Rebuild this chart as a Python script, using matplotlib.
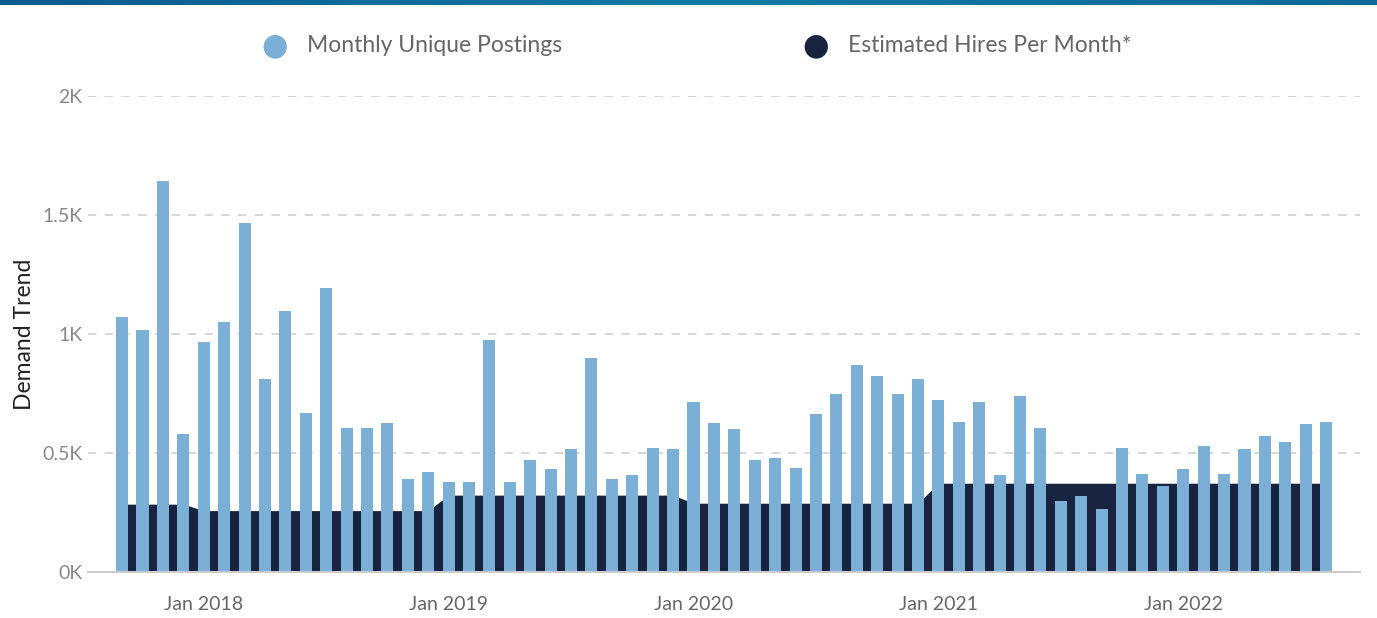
import matplotlib.pyplot as plt
import numpy as np
import pandas as pd

months = pd.date_range("2017-09-01", periods=60, freq="MS")
postings = [1070, 1017, 1644, 580, 966, 1050, 1465, 812, 1097, 670, 1193, 606,
            606, 625, 392, 419, 379, 379, 975, 379, 471, 431, 517, 898,
            392, 406, 522, 515, 716, 625, 600, 471, 477, 438, 665, 748,
            871, 825, 748, 812, 723, 632, 716, 406, 741, 606, 297, 321,
            265, 521, 412, 360, 431, 528, 412, 515, 573, 548, 623, 630]
hires = [285] * 4 + [258] * 12 + [323] * 12 + [289] * 12 + [373] * 20
yticks = [0, 500, 1000, 1500, 2000]
ytick_labels = ["0K", "0.5K", "1K", "1.5K", "2K"]

plt.rcParams['font.family'] = ['Lato', 'DejaVu Sans']
light = "#7bafd6"
navy = "#17233f"

fig = plt.figure(figsize=(13.77, 6.18), dpi=100)

# gradient strip on top
top = fig.add_axes([0, 1 - 5 / 618, 1, 5 / 618])
top.imshow(np.linspace(0, 1, 256).reshape(1, -1), aspect="auto",
           cmap=plt.matplotlib.colors.LinearSegmentedColormap.from_list("g", ["#0b5a8c", "#137ba3", "#0b6a96"]))
top.axis("off")

ax = fig.add_axes([88 / 1377, 1 - 572 / 618, (1360 - 88) / 1377, (572 - 96) / 618])
x = np.arange(len(months))
ax.fill_between(x, hires, color=navy, zorder=1, linewidth=0)
ax.bar(x, postings, width=0.59, color=light, zorder=2, linewidth=0)

ax.set_xlim(-1.67, 60.66)
ax.set_ylim(0, 2000)
ax.set_yticks(yticks)
ax.set_yticklabels(ytick_labels)
jan = [i for i, m in enumerate(months) if m.month == 1]
ax.set_xticks(jan)
ax.set_xticklabels([months[i].strftime("Jan %Y") for i in jan])
ax.tick_params(axis="x", length=0, labelsize=14, labelcolor="#666666", pad=17)
ax.tick_params(axis="y", length=0, labelsize=14, labelcolor="#888888", pad=4)
ax.grid(axis="y", color="#d0d0d0", linestyle=(0, (5, 5)), linewidth=1.2, zorder=0)
for s in ["top", "right", "left"]:
    ax.spines[s].set_visible(False)
ax.spines["bottom"].set_color("#cccccc")
ax.spines["bottom"].set_linewidth(1.5)
ax.set_axisbelow(True)
ax.set_ylabel("Demand Trend", fontsize=16.5, color="#222222", labelpad=5)

# legend
fig.text(275 / 1377, 1 - 46 / 618, "\u25cf", fontsize=22, color=light, ha="center", va="center", family="DejaVu Sans")
fig.text(307 / 1377, 1 - 46 / 618, "Monthly Unique Postings", fontsize=16.5, color="#666666", va="center")
fig.text(816 / 1377, 1 - 46 / 618, "\u25cf", fontsize=22, color=navy, ha="center", va="center", family="DejaVu Sans")
fig.text(848 / 1377, 1 - 46 / 618, "Estimated Hires Per Month*", fontsize=16.5, color="#666666", va="center")

fig.savefig("out.png", dpi=100)
